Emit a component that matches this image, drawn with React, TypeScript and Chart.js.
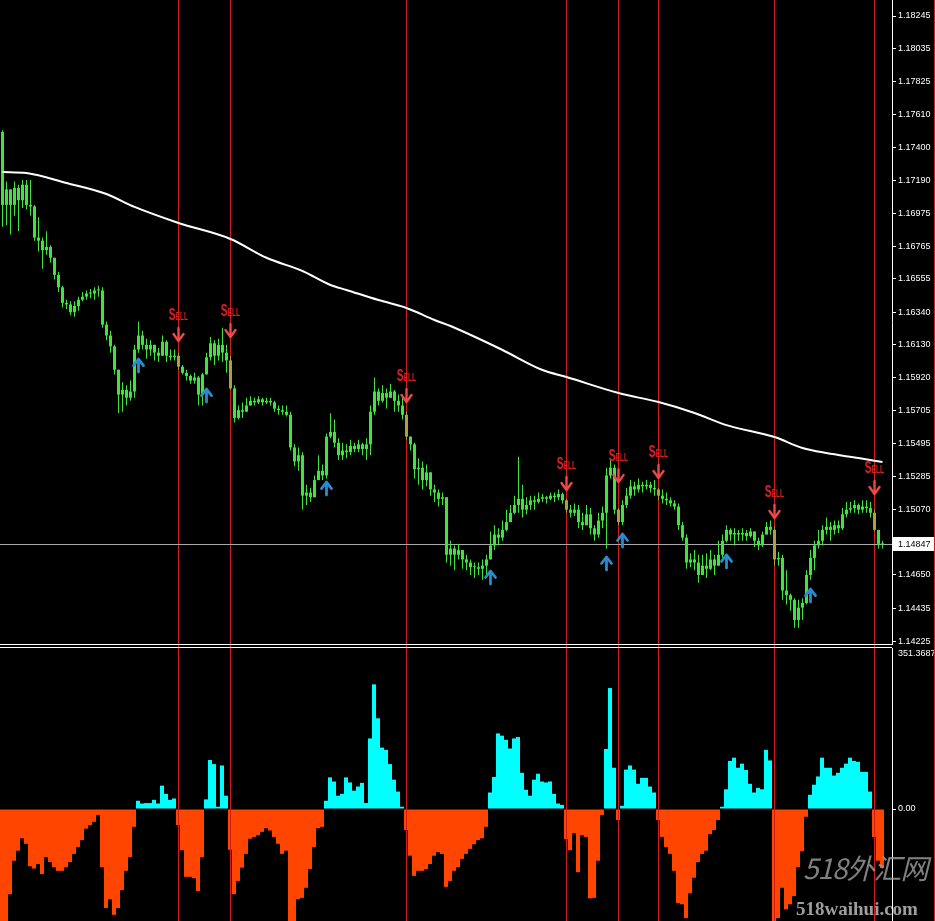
import React, { useEffect, useRef } from "react";
import { Chart, registerables } from "chart.js";

Chart.register(...registerables);

// ---------------- DATA ----------------
const firstOpen = 1.175;

const closes = [
  1.1703, 1.1713, 1.1703, 1.1714, 1.1706, 1.1716, 1.1703, 1.1702, 1.1682, 1.168,
  1.1674, 1.1676, 1.1669, 1.1658, 1.165, 1.164, 1.1639, 1.1634, 1.1638, 1.1642,
  1.1644, 1.1646, 1.1646, 1.1648, 1.1648, 1.1626, 1.1619, 1.1612, 1.1597, 1.1581,
  1.1584, 1.1579, 1.1583, 1.161, 1.1619, 1.1613, 1.161, 1.1613, 1.1608, 1.1606,
  1.1615, 1.1606, 1.1605, 1.1606, 1.1599, 1.1595, 1.1593, 1.159, 1.1592, 1.1581,
  1.1594, 1.1605, 1.1614, 1.1606, 1.1613, 1.1608, 1.1603, 1.1585, 1.1566, 1.1571,
  1.157, 1.1574, 1.1577, 1.1576, 1.1578, 1.1576, 1.1577, 1.1576, 1.1572, 1.1571,
  1.157, 1.1568, 1.1547, 1.1538, 1.1542, 1.1516, 1.1518, 1.1515, 1.1526, 1.1532,
  1.1529, 1.1554, 1.1557, 1.155, 1.1542, 1.1545, 1.1544, 1.1548, 1.1546, 1.1549,
  1.1546, 1.1549, 1.157, 1.1583, 1.1577, 1.1582, 1.1579, 1.1583, 1.1577, 1.1574,
  1.1568, 1.1554, 1.1549, 1.1533, 1.1534, 1.1526, 1.1531, 1.152, 1.1518, 1.1514,
  1.1515, 1.1478, 1.1482, 1.1478, 1.1481, 1.1475, 1.1473, 1.147, 1.147, 1.1469,
  1.1471, 1.1475, 1.1484, 1.1491, 1.1489, 1.1494, 1.1499, 1.1505, 1.151, 1.1514,
  1.1507, 1.151, 1.1513, 1.1512, 1.1514, 1.1515, 1.1514, 1.1516, 1.1515, 1.1517,
  1.1513, 1.1507, 1.1505, 1.1507, 1.1499, 1.1497, 1.1504, 1.1495, 1.1491, 1.15,
  1.1505, 1.1529, 1.1534, 1.1507, 1.1499, 1.151, 1.1516, 1.1522, 1.152, 1.1523,
  1.1522, 1.1523, 1.1521, 1.152, 1.1516, 1.1514, 1.1513, 1.1511, 1.1509, 1.1497,
  1.1489, 1.1473, 1.1475, 1.1473, 1.1465, 1.1471, 1.1469, 1.1475, 1.1471, 1.1478,
  1.1487, 1.1494, 1.1491, 1.1492, 1.1491, 1.1492, 1.149, 1.1493, 1.1487, 1.1484,
  1.1491, 1.1496, 1.1494, 1.1475, 1.1476, 1.1455, 1.1452, 1.1449, 1.1436, 1.1444,
  1.1447, 1.1465, 1.1476, 1.1484, 1.1487, 1.1494, 1.1496, 1.1494, 1.1497, 1.1495,
  1.1504, 1.1507, 1.1508, 1.151, 1.1507, 1.1509, 1.1508, 1.1505, 1.1494, 1.1485,
  1.14847,
];

const highs = [
  1.1751, 1.1718, 1.1711, 1.1718, 1.1716, 1.1719, 1.1719, 1.1719, 1.1703, 1.1695,
  1.1682, 1.1686, 1.1677, 1.1669, 1.166, 1.1651, 1.1642, 1.1641, 1.1641, 1.1644,
  1.1647, 1.1648, 1.1649, 1.165, 1.1651, 1.165, 1.1628, 1.1622, 1.1613, 1.1597,
  1.1589, 1.1587, 1.159, 1.1613, 1.1628, 1.1622, 1.1617, 1.1616, 1.1613, 1.1611,
  1.1619, 1.1616, 1.161, 1.161, 1.1608, 1.16, 1.1597, 1.1594, 1.1595, 1.1593,
  1.1595, 1.1608, 1.1618, 1.1616, 1.1617, 1.1624, 1.1613, 1.1606, 1.1587, 1.1574,
  1.1576, 1.1579, 1.158, 1.1579, 1.158, 1.1579, 1.1579, 1.1579, 1.1577, 1.1574,
  1.1574, 1.1574, 1.157, 1.1549, 1.1547, 1.1544, 1.1523, 1.1521, 1.1529, 1.1542,
  1.1536, 1.1556, 1.1569, 1.1565, 1.1553, 1.155, 1.1549, 1.1552, 1.155, 1.1552,
  1.155, 1.1553, 1.1574, 1.1592, 1.1585, 1.1587, 1.1585, 1.1588, 1.1584, 1.1581,
  1.1579, 1.157, 1.1554, 1.155, 1.154, 1.1538, 1.1536, 1.1527, 1.1523, 1.152,
  1.1518, 1.1515, 1.1487, 1.1484, 1.1485, 1.1481, 1.1478, 1.1475, 1.1473, 1.1473,
  1.1475, 1.1478, 1.1493, 1.1497, 1.1495, 1.15, 1.1507, 1.151, 1.1516, 1.1541,
  1.1523, 1.1515, 1.1516, 1.1516, 1.1518, 1.1517, 1.1516, 1.1518, 1.1518, 1.152,
  1.1518, 1.1514, 1.151, 1.1511, 1.151, 1.1505, 1.151, 1.1508, 1.1497, 1.1505,
  1.1509, 1.1534, 1.1539, 1.1536, 1.1508, 1.1513, 1.1521, 1.1526, 1.1525, 1.1527,
  1.1525, 1.1526, 1.1525, 1.1526, 1.1521, 1.152, 1.1518, 1.1515, 1.1513, 1.1511,
  1.1499, 1.1491, 1.1479, 1.1481, 1.1478, 1.1478, 1.1479, 1.1481, 1.1478, 1.1487,
  1.1491, 1.1497, 1.1495, 1.1495, 1.1494, 1.1495, 1.1494, 1.1495, 1.1492, 1.1489,
  1.1493, 1.1499, 1.15, 1.1496, 1.148, 1.1478, 1.1468, 1.1453, 1.145, 1.1449,
  1.145, 1.1468, 1.1481, 1.1487, 1.1494, 1.1497, 1.1502, 1.1499, 1.15, 1.15,
  1.1508, 1.1512, 1.1512, 1.1513, 1.1511, 1.1513, 1.1513, 1.1512, 1.1507, 1.1494,
  1.1487,
];

const lows = [
  1.1689, 1.169, 1.1684, 1.1696, 1.1686, 1.1701, 1.17, 1.1696, 1.168, 1.1673,
  1.1662, 1.1671, 1.1666, 1.1655, 1.1647, 1.1637, 1.1636, 1.1632, 1.1631, 1.1635,
  1.1641, 1.1642, 1.1643, 1.1642, 1.1644, 1.1624, 1.1616, 1.1608, 1.1594, 1.1569,
  1.157, 1.1574, 1.1577, 1.1579, 1.1608, 1.161, 1.1604, 1.1606, 1.1603, 1.1602,
  1.1606, 1.1602, 1.1603, 1.1603, 1.1597, 1.1594, 1.159, 1.1588, 1.1588, 1.1574,
  1.1574, 1.1594, 1.1603, 1.16, 1.1603, 1.1602, 1.1595, 1.1584, 1.1563, 1.1565,
  1.1566, 1.157, 1.1574, 1.1574, 1.1575, 1.1574, 1.1575, 1.1574, 1.157, 1.1568,
  1.1568, 1.1567, 1.1545, 1.1535, 1.1532, 1.1507, 1.151, 1.1512, 1.1516, 1.1526,
  1.1526, 1.1527, 1.1553, 1.1547, 1.1539, 1.1539, 1.154, 1.1542, 1.1544, 1.1544,
  1.1542, 1.1539, 1.1542, 1.1568, 1.1574, 1.1576, 1.1572, 1.1579, 1.157, 1.157,
  1.1565, 1.1552, 1.1545, 1.1527, 1.1523, 1.152, 1.1522, 1.1516, 1.1512, 1.1509,
  1.151, 1.1473, 1.1471, 1.1468, 1.1475, 1.1469, 1.1468, 1.1465, 1.1463, 1.1465,
  1.1462, 1.1465, 1.1475, 1.1481, 1.1484, 1.1487, 1.1493, 1.1502, 1.1504, 1.1505,
  1.1502, 1.1504, 1.1507, 1.1507, 1.1511, 1.1512, 1.1511, 1.1513, 1.1512, 1.1513,
  1.1511, 1.1505, 1.1502, 1.1503, 1.1495, 1.1494, 1.1497, 1.1491, 1.1487, 1.1489,
  1.1495, 1.1482, 1.1527, 1.1504, 1.1497, 1.1497, 1.1508, 1.1514, 1.1516, 1.1518,
  1.1518, 1.152, 1.1518, 1.1516, 1.1513, 1.1511, 1.151, 1.1509, 1.1507, 1.1494,
  1.1487, 1.1469, 1.147, 1.1468, 1.146, 1.1465, 1.1463, 1.1468, 1.1465, 1.1473,
  1.1476, 1.1486, 1.1487, 1.1484, 1.1487, 1.1487, 1.1487, 1.1489, 1.1483, 1.1481,
  1.1483, 1.1491, 1.1491, 1.1471, 1.1471, 1.1449, 1.1446, 1.1442, 1.1431, 1.1431,
  1.1436, 1.1446, 1.1462, 1.1468, 1.1482, 1.1484, 1.1491, 1.1487, 1.1491, 1.1492,
  1.1494, 1.1502, 1.1505, 1.1505, 1.1504, 1.1505, 1.1505, 1.1502, 1.1493, 1.1482,
  1.1482,
];

const oscValues = [
  -300, -255, -186, -113, -91, -64, -76, -125, -130, -120,
  -142, -105, -116, -127, -135, -135, -127, -116, -98, -83,
  -68, -43, -35, -28, -13, -127, -216, -197, -231, -216,
  -177, -135, -105, -39, 18, 12, 13, 13, 20, 12,
  51, 33, 20, 23, -35, -90, -148, -148, -151, -179,
  -105, 21, 107, 98, 5, 95, 29, -89, -186, -157,
  -128, -98, -65, -61, -57, -50, -42, -47, -61, -76,
  -98, -91, -260, -250, -197, -194, -172, -131, -83, -42,
  -39, 18, 69, 60, 29, 33, 69, 58, 40, 49,
  57, 13, 154, 272, 198, 134, 129, 98, 64, 38,
  5, -46, -102, -146, -135, -135, -131, -120, -102, -94,
  -98, -170, -157, -135, -127, -109, -98, -87, -77, -68,
  -64, -39, 36, 70, 165, 160, 151, 132, 154, 157,
  79, 42, 29, 64, 77, 60, 58, 60, 33, 12,
  9, -66, -90, -53, -138, -57, -61, -195, -194, -113,
  -13, 131, 264, 90, -24, 7, 86, 95, 86, 55,
  68, 68, 49, 36, -24, -61, -83, -98, -135, -205,
  -208, -238, -184, -150, -116, -98, -91, -55, -46, -24,
  5, 43, 105, 112, 90, 99, 85, 55, 36, 46,
  43, 129, 106, -260, -238, -172, -219, -208, -190, -127,
  -92, -17, 31, 53, 71, 112, 90, 90, 73, 79,
  90, 99, 112, 105, 103, 81, 81, 38, -61, -113,
  -129,
];

const maIndex = [0, 6, 16, 26, 33, 44, 57, 66, 75, 82, 86, 94, 101, 108, 112, 125, 135, 141, 154, 164, 173, 181, 193, 200, 206, 214, 220];
const maValues = [
  1.17242, 1.17235, 1.17171, 1.171, 1.17017, 1.16914, 1.16811, 1.1669, 1.16605, 1.16515,
  1.16483, 1.16418, 1.16367, 1.1629, 1.16251, 1.16097, 1.15968, 1.15923, 1.1582, 1.15762,
  1.15692, 1.15614, 1.15537, 1.15467, 1.15434, 1.15402, 1.15376,
];

const sellIndex = [44, 57, 101, 141, 154, 164, 193, 218];
const sellArrowPrice = [1.16193, 1.16219, 1.15801, 1.15235, 1.15286, 1.15312, 1.15055, 1.15209];
const buyIndex = [34, 51, 81, 122, 151, 155, 181, 202];
const buyArrowPrice = [1.16, 1.15807, 1.15209, 1.14637, 1.14727, 1.14875, 1.1474, 1.14521];

const currentPrice = 1.14847;
const priceTicks = [
  1.18245, 1.18035, 1.17825, 1.1761, 1.174, 1.1719, 1.16975, 1.16765, 1.16555, 1.1634,
  1.1613, 1.1592, 1.15705, 1.15495, 1.15285, 1.1507, 1.1465, 1.14435, 1.14225,
];
const oscMax = 351.3687;
const oscTicks = [0];

// ---------------- STYLE ----------------
const GREEN = "#3fe43f";
const SIGNAL_CANDLE = "#a8a43a";
const RED_LINE = "#d01c1c";
const AXIS_FONT = "'Liberation Sans', Arial, sans-serif";

function drawSellMarker(ctx: CanvasRenderingContext2D, x: number, y: number) {
  ctx.save();
  ctx.strokeStyle = "#f04848";
  ctx.lineWidth = 2.4;
  ctx.lineCap = "round";
  ctx.lineJoin = "round";
  ctx.beginPath();
  ctx.moveTo(x, y - 7);
  ctx.lineTo(x, y + 5);
  ctx.stroke();
  ctx.beginPath();
  ctx.moveTo(x - 5, y - 1);
  ctx.lineTo(x, y + 6);
  ctx.lineTo(x + 5, y - 1);
  ctx.stroke();
  // SELL text, condensed
  ctx.fillStyle = "#e02020";
  ctx.textBaseline = "alphabetic";
  ctx.textAlign = "left";
  const fBig = "bold 17px " + AXIS_FONT;
  const fSmall = "bold 11px " + AXIS_FONT;
  ctx.font = fBig;
  const wS = ctx.measureText("S").width;
  ctx.font = fSmall;
  const wE = ctx.measureText("ELL").width;
  const sx = 0.6;
  const total = (wS + wE) * sx;
  ctx.translate(x - total / 2, y - 15);
  ctx.scale(sx, 1);
  ctx.font = fBig;
  ctx.fillText("S", 0, 0);
  ctx.font = fSmall;
  ctx.fillText("ELL", wS, 0);
  ctx.restore();
}

function drawBuyMarker(ctx: CanvasRenderingContext2D, x: number, y: number) {
  ctx.save();
  ctx.strokeStyle = "#2a8ccc";
  ctx.lineWidth = 2.8;
  ctx.lineCap = "round";
  ctx.lineJoin = "round";
  ctx.beginPath();
  ctx.moveTo(x, y + 7);
  ctx.lineTo(x, y - 5);
  ctx.stroke();
  ctx.beginPath();
  ctx.moveTo(x - 5, y + 0.5);
  ctx.lineTo(x, y - 6);
  ctx.lineTo(x + 5, y + 0.5);
  ctx.stroke();
  ctx.restore();
}

export default function App() {
  const topRef = useRef<HTMLCanvasElement>(null);
  const botRef = useRef<HTMLCanvasElement>(null);

  useEffect(() => {
    const opens = closes.map((c, i) => (i === 0 ? firstOpen : closes[i - 1]));
    const bodies = closes.map((c, i) => ({ x: i, y: [opens[i], c] }));
    const wicks = closes.map((c, i) => ({
      x: i,
      y: [Math.min(lows[i], opens[i], c), Math.max(highs[i], opens[i], c)],
    }));
    const candleColors = closes.map((_, i) => (sellIndex.includes(i) ? SIGNAL_CANDLE : GREEN));

    const topPlugin = {
      id: "mt4Top",
      beforeDatasetsDraw(chart: any) {
        const { ctx, chartArea, scales } = chart;
        const xs = scales.x;
        const ys = scales.y;
        ctx.save();
        ctx.lineWidth = 1;
        ctx.strokeStyle = RED_LINE;
        sellIndex.forEach((i) => {
          const x = Math.floor(xs.getPixelForValue(i)) + 0.5;
          ctx.beginPath();
          ctx.moveTo(x, 0);
          ctx.lineTo(x, chart.height);
          ctx.stroke();
        });
        const yp = Math.round(ys.getPixelForValue(currentPrice)) + 0.5;
        ctx.strokeStyle = "#a9a9a9";
        ctx.beginPath();
        ctx.moveTo(chartArea.left, yp);
        ctx.lineTo(chartArea.right, yp);
        ctx.stroke();
        ctx.restore();
      },
      afterDraw(chart: any) {
        const { ctx, chartArea, scales } = chart;
        const xs = scales.x;
        const ys = scales.y;
        sellIndex.forEach((idx, k) => {
          const x = Math.floor(xs.getPixelForValue(idx)) + 0.5;
          drawSellMarker(ctx, x, ys.getPixelForValue(sellArrowPrice[k]));
        });
        buyIndex.forEach((idx, k) => {
          const x = Math.floor(xs.getPixelForValue(idx)) + 0.5;
          drawBuyMarker(ctx, x, ys.getPixelForValue(buyArrowPrice[k]));
        });
        ctx.save();
        const yp = Math.round(ys.getPixelForValue(currentPrice));
        ctx.fillStyle = "#ffffff";
        ctx.fillRect(chartArea.right + 1, yp - 7, 42, 14);
        ctx.fillStyle = "#000000";
        ctx.font = "9px " + AXIS_FONT;
        ctx.textBaseline = "middle";
        ctx.textAlign = "left";
        ctx.fillText(currentPrice.toFixed(5), chartArea.right + 6, yp + 0.5);
        // panel separator (double line)
        ctx.strokeStyle = "#ffffff";
        ctx.lineWidth = 1;
        ctx.beginPath();
        ctx.moveTo(0, 644.5);
        ctx.lineTo(chartArea.right, 644.5);
        ctx.moveTo(0, 647.5);
        ctx.lineTo(chartArea.right, 647.5);
        ctx.stroke();
        ctx.restore();
      },
    };

    const top = new Chart(topRef.current as HTMLCanvasElement, {
      type: "bar",
      data: {
        datasets: [
          {
            type: "line",
            data: maIndex.map((x, k) => ({ x, y: maValues[k] })),
            borderColor: "#ffffff",
            borderWidth: 2,
            pointRadius: 0,
            cubicInterpolationMode: "monotone",
            order: 0,
          } as any,
          {
            type: "bar",
            data: bodies as any,
            backgroundColor: candleColors,
            barThickness: 3,
            grouped: false,
            minBarLength: 1,
            inflateAmount: 0,
            order: 1,
          } as any,
          {
            type: "bar",
            data: wicks as any,
            backgroundColor: candleColors,
            barThickness: 1,
            grouped: false,
            inflateAmount: 0,
            order: 2,
          } as any,
        ],
      },
      options: {
        animation: false,
        responsive: false,
        maintainAspectRatio: false,
        devicePixelRatio: 1,
        events: [],
        layout: { padding: { top: 0, left: 0, right: 0, bottom: 4 } },
        plugins: { legend: { display: false }, tooltip: { enabled: false } },
        scales: {
          x: { type: "linear", min: -0.625, max: 222.375, offset: false, display: false },
          y: {
            type: "linear",
            position: "right",
            min: 1.14206,
            max: 1.18348,
            afterBuildTicks: (s: any) => {
              s.ticks = priceTicks.map((v) => ({ value: v }));
            },
            afterFit: (s: any) => {
              s.width = 43;
              s.paddingTop = 0;
              s.paddingBottom = 0;
            },
            ticks: {
              color: "#ffffff",
              font: { family: AXIS_FONT, size: 9 },
              padding: 2,
              autoSkip: false,
              callback: (v: any) => Number(v).toFixed(5),
            },
            grid: { display: true, drawOnChartArea: false, drawTicks: true, tickLength: 4, color: "#ffffff" },
            border: { display: true, color: "#ffffff", width: 1 },
          },
        },
      } as any,
      plugins: [topPlugin],
    });

    const botPlugin = {
      id: "mt4Bottom",
      afterDatasetsDraw(chart: any) {
        const { ctx, scales } = chart;
        const xs = scales.x;
        ctx.save();
        ctx.lineWidth = 1;
        ctx.strokeStyle = RED_LINE;
        sellIndex.forEach((i) => {
          const x = Math.floor(xs.getPixelForValue(i) + 0.5) + 0.5;
          ctx.beginPath();
          ctx.moveTo(x, 0);
          ctx.lineTo(x, chart.height);
          ctx.stroke();
        });
        ctx.restore();
      },
      afterDraw(chart: any) {
        const { ctx, chartArea } = chart;
        ctx.save();
        ctx.fillStyle = "#ffffff";
        ctx.font = "9px " + AXIS_FONT;
        ctx.textBaseline = "middle";
        ctx.textAlign = "left";
        ctx.fillText(oscMax.toFixed(4), chartArea.right + 6, 6);
        ctx.restore();
      },
    };

    const bot = new Chart(botRef.current as HTMLCanvasElement, {
      type: "bar",
      data: {
        datasets: [
          {
            data: oscValues.map((v, i) => ({ x: i, y: v })) as any,
            backgroundColor: oscValues.map((v) => (v >= 0 ? "#00ffff" : "#ff4500")),
            barThickness: 4,
            grouped: false,
            inflateAmount: 0,
          } as any,
        ],
      },
      options: {
        animation: false,
        responsive: false,
        maintainAspectRatio: false,
        devicePixelRatio: 1,
        events: [],
        layout: { padding: 0 },
        plugins: { legend: { display: false }, tooltip: { enabled: false } },
        scales: {
          x: { type: "linear", min: -0.5, max: 222.5, offset: false, display: false },
          y: {
            type: "linear",
            position: "right",
            min: -244.43,
            max: oscMax,
            afterBuildTicks: (s: any) => {
              s.ticks = oscTicks.map((v) => ({ value: v }));
            },
            afterFit: (s: any) => {
              s.width = 43;
              s.paddingTop = 0;
              s.paddingBottom = 0;
            },
            ticks: {
              color: "#ffffff",
              font: { family: AXIS_FONT, size: 9 },
              padding: 2,
              autoSkip: false,
              callback: (v: any) => Number(v).toFixed(2),
            },
            grid: { display: true, drawOnChartArea: false, drawTicks: true, tickLength: 4, color: "#ffffff" },
            border: { display: true, color: "#ffffff", width: 1 },
          },
        },
      } as any,
      plugins: [botPlugin],
    });

    return () => {
      top.destroy();
      bot.destroy();
    };
  }, []);

  return (
    <div
      style={{
        position: "fixed",
        left: 0,
        top: 0,
        width: 935,
        height: 921,
        background: "#000",
        overflow: "hidden",
      }}
    >
      <canvas ref={topRef} width={935} height={648} style={{ position: "absolute", left: 0, top: 0 }} />
      <canvas ref={botRef} width={935} height={273} style={{ position: "absolute", left: 0, top: 648 }} />
      <div style={{ position: "absolute", left: 934, top: 0, width: 1, height: 921, background: RED_LINE }} />
      <div
        style={{
          position: "absolute",
          left: 803,
          top: 852,
          fontFamily: "'Noto Sans CJK SC', 'Liberation Serif', serif",
          fontStyle: "italic",
          fontSize: 28,
          lineHeight: "30px",
          color: "rgba(150,150,150,0.85)",
          whiteSpace: "nowrap",
          letterSpacing: -1,
        }}
      >
        518外汇网
      </div>
      <div
        style={{
          position: "absolute",
          left: 796,
          top: 899,
          fontFamily: "'Liberation Serif', 'DejaVu Serif', serif",
          fontWeight: "bold",
          fontSize: 19,
          lineHeight: "20px",
          color: "rgba(175,175,175,0.9)",
          whiteSpace: "nowrap",
        }}
      >
        518waihui.com
      </div>
    </div>
  );
}
